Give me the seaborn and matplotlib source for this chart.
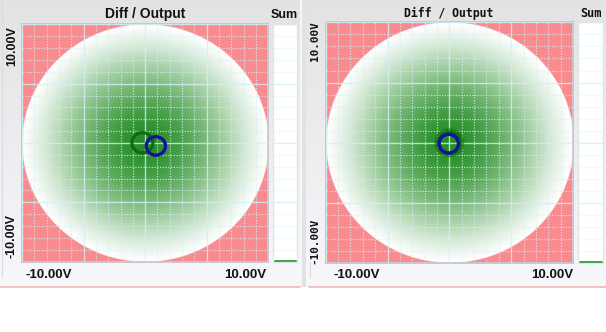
import numpy as np
import matplotlib
matplotlib.use("Agg")
import matplotlib.pyplot as plt
from matplotlib.patches import Rectangle, Circle
import seaborn as sns

# ---- chart content -------------------------------------------------------
panel_titles = ["Diff / Output", "Diff / Output"]
sum_titles = ["Sum", "Sum"]
x_tick_labels = ["-10.00V", "10.00V"]
y_tick_labels = ["-10.00V", "10.00V"]
axis_limit = 10.0          # volts, both axes
major_step = 5.0
minor_step = 1.0

# probe positions (V) for the two panels
diff_x = [-0.22, 0.0]
diff_y = [0.02, 0.0]
output_x = [0.87, -0.05]
output_y = [-0.25, -0.08]
diff_radius = 0.85
output_radius = 0.78

# sum indicator
sum_labels = ["Sum"]
sum_values = [0.25, 0.25]
sum_limit = 20.0

# ---- styling -------------------------------------------------------------
sns.set_style("white")
W, H = 606, 332
PINK = "#f98a8e"
GRID = (0.82, 0.94, 0.97)
GREEN_CENTER = np.array([36, 140, 36]) / 255.0
RING_GREEN = "#0b6a10"
RING_BLUE = "#12129c"
FRAME = "#c4c4cc"
SANS = ["Liberation Sans", "DejaVu Sans"]
MONO = ["DejaVu Sans Mono", "Liberation Mono"]

fig = plt.figure(figsize=(W / 100, H / 100), dpi=100)
fig.patch.set_facecolor("white")


def rect(x0, y0, x1, y1):
    """pixel box (top-left origin) -> figure fraction rect"""
    return [x0 / W, 1 - y1 / H, (x1 - x0) / W, (y1 - y0) / H]


def fx(x):
    return x / W


def fy(y):
    return 1 - y / H


# ---- window background -----------------------------------------------------
bg = fig.add_axes([0, 0, 1, 1], zorder=-10)
bg.axis("off")
top = np.array([0.89, 0.89, 0.89])
bot = np.array([0.969, 0.969, 0.988])
col = np.linspace(0, 1, 200)[:, None]
grad = (top * (1 - col) + bot * col)[:, None, :]
for (x0, x1) in [(0, 300), (306, 606)]:
    bg.imshow(grad, extent=[x0, x1, 287, 0], aspect="auto", interpolation="bilinear")
bg.add_patch(Rectangle((300, 0), 1.5, 287, color="#f6f6f6", lw=0))
bg.add_patch(Rectangle((301.5, 0), 4.5, 287, color="#e2e2e2", lw=0))
bg.plot([0, 300], [287, 287], color="#f2b4b8", lw=1.2)
bg.plot([309, 606], [287, 287], color="#f2b4b8", lw=1.2)
bg.plot([2, 2], [0, 277], color="#dcdce0", lw=0.8)
bg.plot([309.5, 309.5], [262, 277], color="#dcdce0", lw=0.8)
bg.set_xlim(0, W)
bg.set_ylim(H, 0)

# ---- radial intensity map shared by both panels ----------------------------
N = 600
g = np.linspace(-axis_limit, axis_limit, N)
GX, GY = np.meshgrid(g, g)
R = np.hypot(GX, GY)
rn = np.clip(R / axis_limit, 0, 1)
w = ((1 - rn ** 1.6) ** 1.3)[..., None]          # green weight, 1 at centre
rgb = GREEN_CENTER * w + 1.0 * (1 - w)
alpha = np.clip((axis_limit - R) / (2 * axis_limit / N) + 0.5, 0, 1)[..., None]
disk = np.concatenate([rgb, alpha], axis=-1)

layouts = [
    dict(main=(22, 24.3, 268.3, 261.7), side=(272.5, 24.3, 296.7, 261.7),
         title=(145, 18.3), sum=(284.7, 18.3),
         ylab=[(11.5, 236.5), (12, 46.5)], xlab=[(25, 277.7), (266.5, 277.7)],
         font=SANS, tsize=10, ssize=9, ysize=9),
    dict(main=(325.7, 22.3, 573, 263.3), side=(578, 22.3, 603, 263.3),
         title=(448.8, 17.4), sum=(590.7, 17.2),
         ylab=[(314.5, 240.5), (315, 41.5)], xlab=[(333.7, 277.7), (573.7, 277.7)],
         font=MONO, tsize=8.3, ssize=8.6, ysize=7.9),
]


def style_grid(ax, xgrid=True):
    ax.tick_params(which="both", length=0, labelleft=False, labelbottom=False)
    ax.grid(which="major", axis="both" if xgrid else "y", color=GRID, lw=1.0,
            alpha=0.8, ls="-")
    ax.grid(which="minor", axis="both" if xgrid else "y", color=GRID, lw=0.9,
            alpha=0.8, ls=(0, (1, 1.2)))
    for s in ax.spines.values():
        s.set_visible(True)
        s.set_color(FRAME)
        s.set_linewidth(1.3)


for i, lay in enumerate(layouts):
    ax = fig.add_axes(rect(*lay["main"]))
    ax.set_facecolor(PINK)
    ax.imshow(disk, extent=[-axis_limit, axis_limit, -axis_limit, axis_limit],
              origin="lower", aspect="auto", interpolation="bilinear", zorder=0)
    ax.set_xlim(-axis_limit, axis_limit)
    ax.set_ylim(-axis_limit, axis_limit)
    ax.set_xticks(np.arange(-axis_limit, axis_limit + 0.1, major_step))
    ax.set_yticks(np.arange(-axis_limit, axis_limit + 0.1, major_step))
    ax.set_xticks(np.arange(-axis_limit, axis_limit + 0.1, minor_step), minor=True)
    ax.set_yticks(np.arange(-axis_limit, axis_limit + 0.1, minor_step), minor=True)
    style_grid(ax)
    ax.set_axisbelow(False)
    for gl in ax.get_xgridlines() + ax.get_ygridlines():
        gl.set_zorder(1.5)

    if i == 1:
        # soft halo under the concentric ring
        ax.add_patch(Circle((diff_x[i], diff_y[i]), diff_radius + 0.1, fill=False,
                            ec=RING_GREEN, lw=4.5, alpha=0.55, zorder=2.9))
    ax.add_patch(Circle((diff_x[i], diff_y[i]), diff_radius, fill=False,
                        ec=RING_GREEN, lw=2.4, alpha=0.95, zorder=3))
    ax.add_patch(Circle((output_x[i], output_y[i]), output_radius, fill=False,
                        ec=RING_BLUE, lw=2.4, zorder=4))

    # sum indicator column
    sax = fig.add_axes(rect(*lay["side"]))
    sax.set_facecolor("white")
    sns.barplot(x=sum_labels, y=[sum_values[i]], ax=sax, color="#1f8f1f",
                width=1.0, saturation=1.0, zorder=3)
    sax.set_xlim(-0.5, 0.5)
    sax.set_ylim(0, sum_limit)
    sax.set_yticks(np.arange(0, sum_limit + 0.1, major_step))
    sax.set_yticks(np.arange(0, sum_limit + 0.1, minor_step), minor=True)
    sax.set_xlabel("")
    sax.set_ylabel("")
    style_grid(sax, xgrid=False)
    sax.set_axisbelow(True)
    for s in sax.spines.values():
        s.set_color("#dde8ee")
        s.set_linewidth(1.0)

    # text
    fig.text(fx(lay["title"][0]), fy(lay["title"][1]), panel_titles[i],
             ha="center", va="baseline", fontsize=lay["tsize"], fontweight="bold",
             family=lay["font"], color="#111111")
    fig.text(fx(lay["sum"][0]), fy(lay["sum"][1]), sum_titles[i],
             ha="center", va="baseline", fontsize=lay["ssize"], fontweight="bold",
             family=lay["font"], color="#111111")
    for (px, py), lab in zip(lay["ylab"], y_tick_labels):
        fig.text(fx(px), fy(py), lab, rotation=90, ha="center", va="center",
                 fontsize=lay["ysize"], fontweight="bold", family=lay["font"],
                 color="#111111")
    (lx, ly), (rx, ry) = lay["xlab"]
    fig.text(fx(lx), fy(ly), x_tick_labels[0], ha="left", va="baseline",
             fontsize=9.5, fontweight="bold", family=SANS, color="#111111")
    fig.text(fx(rx), fy(ry), x_tick_labels[1], ha="right", va="baseline",
             fontsize=9.5, fontweight="bold", family=SANS, color="#111111")

fig.savefig("out.png", dpi=100, facecolor=fig.get_facecolor())
